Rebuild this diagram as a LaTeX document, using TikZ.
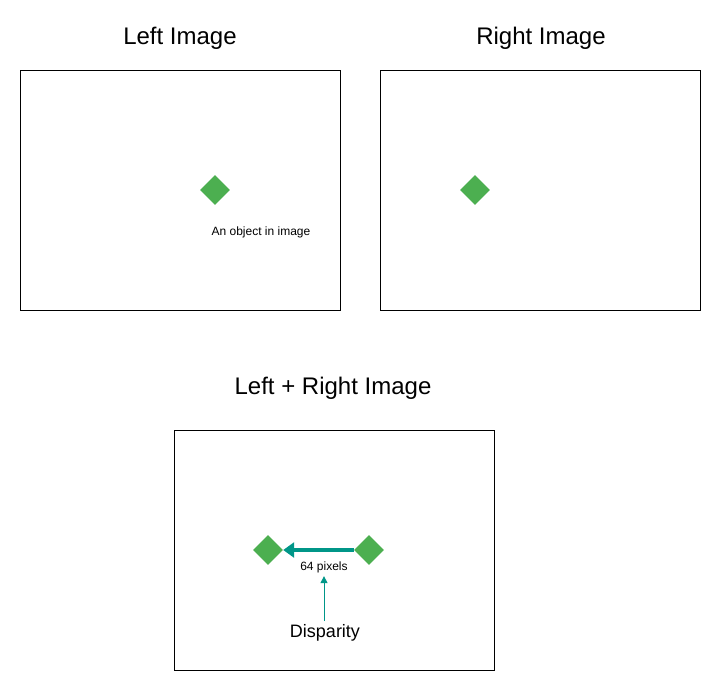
\documentclass[tikz,border=0pt]{standalone}
\usepackage{fontspec}
\setmainfont{Liberation Sans}
\usetikzlibrary{shapes.geometric,arrows.meta,positioning}
\definecolor{objgreen}{RGB}{76,175,80}
\definecolor{dispteal}{RGB}{0,150,136}

\begin{document}
\begin{tikzpicture}[x=1pt,y=-1pt]
    \tikzstyle{frame}=[draw=black,line width=0.7pt]
    \tikzstyle{title}=[font=\fontsize{24}{28}\selectfont]
    \tikzstyle{object}=[diamond,fill=objgreen,minimum size=30pt,inner sep=0pt]
    \tikzstyle{annot}=[font=\fontsize{12}{14}\selectfont]
    \useasboundingbox (0,0) rectangle (721,691);

% Titres
\node[title] (T-L) at (180,38) {Left Image};
\node[title] (T-R) at (541,38) {Right Image};
\node[title] (T-LR) at (333,388) {Left + Right Image};

% Cadres
\draw[frame] (20,70) rectangle (340,310);
\draw[frame] (380,70) rectangle (700,310);
\draw[frame] (174,430) rectangle (494,670);

% Objets
\node[object] (O-L) at (215,190) {};
\node[object] (O-R) at (475,190) {};
\node[annot] (A) at (261,232) {An object in image};

\node[object] (B-L) at (268,550) {};
\node[object] (B-R) at (369,550) {};

% Disparite
\node[annot] (P) at (324,567) {64 pixels};
\node[font=\fontsize{18}{22}\selectfont] (D) at (325,633) {Disparity};
\draw[-{Triangle[length=11pt,width=15pt]},line width=4.5pt,dispteal] (B-R.west) -- (B-L.east);
\draw[-{Triangle[length=7pt,width=7pt]},line width=1pt,dispteal] (D.north -| P.south) -- (P.south);

\end{tikzpicture}
\end{document}
